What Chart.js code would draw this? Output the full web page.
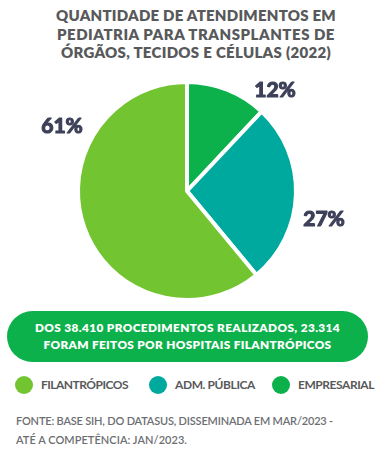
<!DOCTYPE html>
<html>
<head>
<meta charset="utf-8">
<script src="https://cdn.jsdelivr.net/npm/chart.js@4"></script>
<style>
  html, body { margin: 0; padding: 0; background: #fff; }
  body { width: 392px; height: 452px; position: relative; overflow: hidden; font-family: Lato, "Open Sans", sans-serif; }
  .line { display: inline-block; white-space: nowrap; }
  #title { position: absolute; left: 0; top: 6px; width: 392px; text-align: center; color: #58595b;
           font-weight: 800; font-size: 15px; line-height: 18.5px; }
  #pie-wrap { position: absolute; left: 0; top: 70px; width: 392px; height: 240px; }
  #box { position: absolute; left: 7px; top: 311px; width: 361px; height: 51px; border-radius: 26px;
         background: #0db14b; color: #fff; text-align: center; font-weight: 800; font-size: 11.8px;
         line-height: 16.5px; box-sizing: border-box; padding-top: 9px; }
  #legend { position: absolute; left: 0; top: 376px; width: 392px; height: 20px; }
  .item { position: absolute; top: 0; height: 18px; color: #58595b; font-weight: 700; font-size: 12px; line-height: 18px; }
  .dot { position: absolute; left: 0; top: 0; width: 18px; height: 18px; border-radius: 50%; }
  .item .line { position: absolute; left: 26px; top: 0; }
  #footer { position: absolute; left: 16px; top: 411px; color: #6d6e71; font-weight: 600; font-size: 11px; line-height: 19px; }
</style>
</head>
<body>
<div id="title"><span class="line" data-w="280">QUANTIDADE DE ATENDIMENTOS EM</span><br><span class="line" data-w="278">PEDIATRIA PARA TRANSPLANTES DE</span><br><span class="line" data-w="270">ÓRGÃOS, TECIDOS E CÉLULAS (2022)</span></div>
<div id="pie-wrap"><canvas id="myChart" width="392" height="240"></canvas></div>
<div id="box"><span class="line" data-w="305">DOS 38.410 PROCEDIMENTOS REALIZADOS, 23.314</span><br><span class="line" data-w="288">FORAM FEITOS POR HOSPITAIS FILANTRÓPICOS</span></div>
<div id="legend"></div>
<div id="footer"><span class="line" data-w="317">FONTE: BASE SIH, DO DATASUS, DISSEMINADA EM MAR/2023 -</span><br><span class="line" data-w="171">ATÉ A COMPETÊNCIA: JAN/2023.</span></div>
<script>
// data
const categories = ['EMPRESARIAL', 'ADM. PÚBLICA', 'FILANTRÓPICOS'];
const shares = [12, 27, 61];
const sliceColors = ['#0db14b', '#00a99d', '#72c530'];

// legend goes in the other order
const legendOrder = [2, 1, 0];
const legendX = [15, 149, 272];
const legendTextW = [87, 80, 76];

const legend = document.getElementById('legend');
legendOrder.forEach(function (idx, i) {
  const item = document.createElement('div');
  item.className = 'item';
  item.style.left = legendX[i] + 'px';
  item.innerHTML = '<div class="dot" style="background:' + sliceColors[idx] + '"></div>' +
    '<span class="line" data-w="' + legendTextW[i] + '">' + categories[idx] + '</span>';
  legend.appendChild(item);
});

// stretch each text line to the width it has in the original
document.querySelectorAll('.line').forEach(function (el) {
  const target = parseFloat(el.dataset.w);
  const w = el.getBoundingClientRect().width;
  const n = el.textContent.length;
  el.style.letterSpacing = ((target - w) / n) + 'px';
});

// where each % label sits, relative to the pie centre
const labelOffsets = [[88, -101], [137, 28], [-125, -65]];

const outsideLabels = {
  id: 'outsideLabels',
  afterDatasetsDraw(chart) {
    const ctx = chart.ctx;
    const arcs = chart.getDatasetMeta(0).data;
    ctx.save();
    ctx.fillStyle = '#3d4159';
    ctx.strokeStyle = '#3d4159';
    ctx.lineWidth = 1.2;
    ctx.lineJoin = 'round';
    ctx.font = 'bold 21px Lato';
    ctx.textAlign = 'center';
    ctx.textBaseline = 'middle';
    arcs.forEach(function (arc, i) {
      const x = arc.x + labelOffsets[i][0];
      const y = arc.y + labelOffsets[i][1];
      ctx.fillText(shares[i] + '%', x, y);
      ctx.strokeText(shares[i] + '%', x, y);
    });
    ctx.restore();
  }
};

function createPieChart() {
  var ctx = document.getElementById('myChart').getContext('2d');
  new Chart(ctx, {
    type: 'pie',
    data: {
      labels: categories,
      datasets: [{
        data: shares,
        backgroundColor: sliceColors,
        borderColor: '#ffffff',
        borderWidth: 4
      }]
    },
    options: {
      responsive: false,
      animation: false,
      layout: { padding: { left: 0, right: 18, top: 10, bottom: 8 } },
      plugins: {
        legend: { display: false },
        tooltip: { enabled: false }
      }
    },
    plugins: [outsideLabels]
  });
}
createPieChart();
</script>
</body>
</html>
